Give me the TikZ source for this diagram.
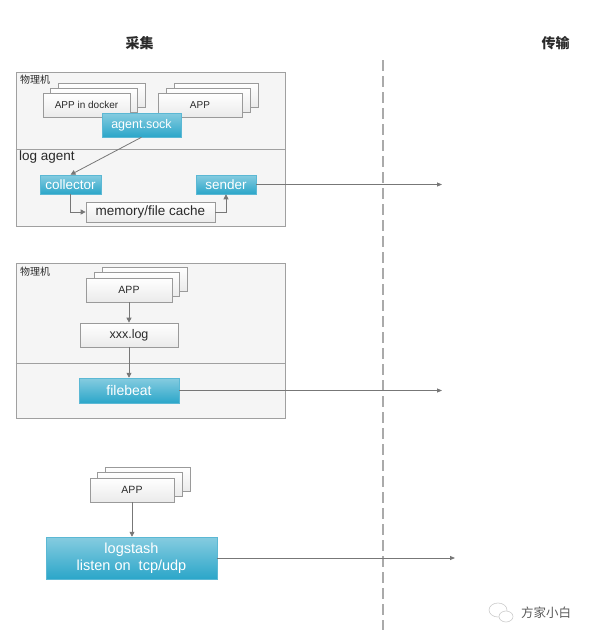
\documentclass[tikz,border=0pt]{standalone}
\usepackage{fontspec}
\setmainfont{Liberation Sans}
\newfontfamily\cjk{Noto Sans CJK SC}
\usetikzlibrary{arrows.meta}
\definecolor{panelfill}{HTML}{F5F5F5}
\definecolor{panelline}{HTML}{A0A0A0}
\definecolor{boxline}{HTML}{9A9A9A}
\definecolor{tealtop}{HTML}{86CCE0}
\definecolor{tealbot}{HTML}{2BA6C9}
\definecolor{tealline}{HTML}{5BB8D4}
\definecolor{arr}{HTML}{777777}
\definecolor{dashc}{HTML}{AAAAAA}
\definecolor{txt}{HTML}{2A2A2A}
\begin{document}
\begin{tikzpicture}[x=1pt,y=-1pt,
 panel/.style={draw=panelline, fill=panelfill, line width=0.9pt, inner sep=0pt, minimum width=269pt},
 wbox/.style={draw=boxline, top color=white, bottom color=black!8, line width=0.7pt, inner sep=0pt, text=txt, font=\fontsize{10}{12}\selectfont},
 tbox/.style={draw=tealline, top color=tealtop, bottom color=tealbot, inner sep=0pt, text=white, line width=0.5pt, font=\fontsize{13.5}{16}\selectfont},
 link/.style={draw=arr, line width=0.8pt, -{Triangle[length=5pt,width=5pt]}},
 sendarrow/.style={draw=arr, line width=0.8pt, -{Triangle[length=5pt,width=4pt]}},
 lbl/.style={anchor=west, inner sep=0pt, text=txt},
 title/.style={inner sep=0pt, text=txt, font=\cjk\bfseries\fontsize{14}{16}\selectfont}
]
\useasboundingbox (0,0) rectangle (593,638);

% titles
\node[title] (t1) at (139.5,43) {采集};
\node[title] (t2) at (555.5,43) {传输};

% dashed separator
\coordinate (d1) at (383,60);
\coordinate (d2) at (383,630);
\draw[dashc, line width=1.5pt, dash pattern=on 11pt off 5pt] (d1) -- (d2);

% ---------- panel 1 ----------
\node[panel, minimum height=154pt] (p1) at (150.5,149) {};
\draw[panelline, line width=0.9pt] (p1.west |- 0,149) -- (p1.east |- 0,149);
\node[lbl, font=\cjk\fontsize{10}{12}\selectfont] (pm1) at (20,80) {物理机};
\node[lbl, font=\fontsize{13.5}{16}\selectfont] (la) at (19,157) {log agent};

\node[wbox, minimum width=87pt, minimum height=24pt] (dk3) at (101.5,95) {};
\node[wbox, minimum width=87pt, minimum height=24pt] (dk2) at (94,100) {};
\node[wbox, minimum width=87pt, minimum height=24pt] (dk) at (86.5,105) {APP in docker};

\node[wbox, minimum width=84pt, minimum height=24pt] (ap3) at (216,95) {};
\node[wbox, minimum width=84pt, minimum height=24pt] (ap2) at (208,100) {};
\node[wbox, minimum width=84pt, minimum height=24pt] (ap) at (200,105) {APP};

\node[tbox, minimum width=79pt, minimum height=24pt, font=\fontsize{12.5}{15}\selectfont] (sock) at (141.5,125) {agent.sock};

\node[tbox, minimum width=61pt, minimum height=19pt] (col) at (70.5,184.5) {collector};
\node[tbox, minimum width=60pt, minimum height=19pt] (snd) at (226,184.5) {sender};
\node[wbox, minimum width=129pt, minimum height=20pt, font=\fontsize{13.5}{16}\selectfont] (cache) at (150.5,212) {memory/file cache};

\draw[link] (sock.south) -- (col.north);
\draw[link] (col.south) |- (cache.west);
\draw[link] (cache.east) -| (snd.south);
\coordinate (e1) at (442,184.5);
\draw[sendarrow] (snd.east) -- (e1);

% ---------- panel 2 ----------
\node[panel, minimum height=155pt] (p2) at (150.5,340.5) {};
\draw[panelline, line width=0.9pt] (p2.west |- 0,363) -- (p2.east |- 0,363);
\node[lbl, font=\cjk\fontsize{10}{12}\selectfont] (pm2) at (20,272) {物理机};

\node[wbox, minimum width=85pt, minimum height=24pt] (b3) at (145,279) {};
\node[wbox, minimum width=85pt, minimum height=24pt] (b2) at (137,284.5) {};
\node[wbox, minimum width=86pt, minimum height=24pt, font=\fontsize{10.5}{12}\selectfont] (b1) at (129,290) {APP};

\node[wbox, minimum width=98pt, minimum height=24pt, font=\fontsize{12.5}{15}\selectfont] (xlog) at (129,335) {xxx.log};
\node[tbox, minimum width=100pt, minimum height=25pt, font=\fontsize{14}{16}\selectfont] (fb) at (129,390.5) {filebeat};

\draw[link] (b1.south) -- (xlog.north);
\draw[link] (xlog.south) -- (fb.north);
\coordinate (e2) at (442,390.5);
\draw[sendarrow] (fb.east) -- (e2);

% ---------- bottom ----------
\node[wbox, minimum width=85pt, minimum height=24pt] (c3) at (148,479) {};
\node[wbox, minimum width=85pt, minimum height=24pt] (c2) at (140,484.5) {};
\node[wbox, minimum width=84pt, minimum height=24pt, font=\fontsize{10.5}{12}\selectfont] (c1) at (132,490) {APP};

\node[tbox, minimum width=171pt, minimum height=42pt, font=\fontsize{14.5}{17}\selectfont, align=center] (ls) at (131.5,558) {logstash\\listen on\ \ tcp/udp};

\draw[link] (c1.south) -- (c1.south |- ls.north);
\coordinate (e3) at (455,558);
\draw[sendarrow] (ls.east) -- (e3);

% ---------- watermark ----------
\draw[gray!40, line width=0.6pt, fill=white] (498,610) ellipse (9pt and 7pt);
\draw[gray!40, line width=0.6pt, fill=white] (506,616.5) ellipse (7pt and 5.5pt);
\node[inner sep=0pt, text=black!65, font=\cjk\fontsize{12.5}{14}\selectfont] (wm) at (546,613) {方家小白};
\end{tikzpicture}
\end{document}
